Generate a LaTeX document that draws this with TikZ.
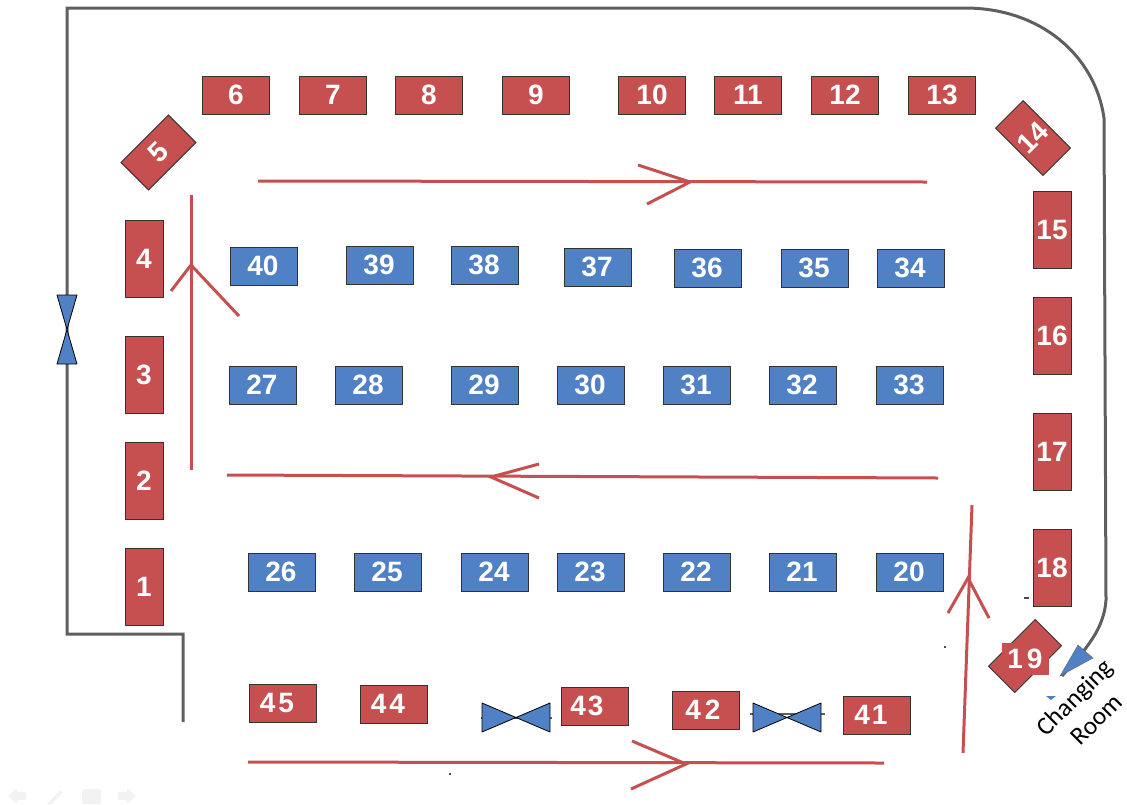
\documentclass[tikz,border=0pt]{standalone}
\usepackage{fontspec}
\setmainfont{Liberation Sans}
\newfontfamily\labelfont{Carlito}
\definecolor{rd}{HTML}{C5504F}
\definecolor{bl}{HTML}{4F81C4}
\definecolor{wl}{HTML}{5F5F5F}
\tikzset{
  numfont/.style={font=\fontsize{28}{28}\selectfont\bfseries},
  numbox/.style={draw=black!80,line width=0.9pt,inner sep=0pt,text=white,numfont},
  redh/.style={numbox,fill=rd,minimum width=67pt,minimum height=38pt},
  redv/.style={numbox,fill=rd,minimum width=38pt,minimum height=77pt},
  blueh/.style={numbox,fill=bl,minimum width=67pt,minimum height=38pt},
  wall/.style={draw=wl,line width=3pt},
  flow/.style={draw=rd,line width=3pt},
  valve/.style={draw=black,line width=0.8pt,fill=bl,line join=round},
  navicon/.style={fill=black!5,draw=none},
  speck/.style={fill=black!70,draw=none},
}
\begin{document}
\begin{tikzpicture}[x=1pt,y=-1pt]
\useasboundingbox (0,0) rectangle (1127,804);
% walls
\coordinate (w1) at (183,722);\coordinate (w2) at (183,634);\coordinate (w3) at (67,634);
\coordinate (w4) at (67,8);\coordinate (w5) at (965,8);\coordinate (w6) at (1104,118);
\coordinate (w7) at (1106,600);\coordinate (w8) at (1062,676);
\draw[wall,line join=miter] (w1) -- (w2) -- (w3) -- (w4) -- (w5)
  .. controls (1040,8) and (1095,55) .. (w6) -- (w7) .. controls (1104,630) and (1085,650) .. (w8);
% red row
\foreach \n/\x/\y in {6/236/95,7/333/95,8/429/95,9/536/95,10/652/95,11/748/95,12/845/95,13/942/95}
  \node[redh] (r\n) at (\x,\y) {\n};
\foreach \n/\x/\y in {1/144/587,2/144/481,3/144/375,4/144/259,15/1052/230,16/1052/336,17/1052/452,18/1052/568}
  \node[redv] (r\n) at (\x,\y) {\n};
\node[numbox,fill=rd,minimum width=39pt,minimum height=67pt,rotate=-45] (r5) at (158.5,152.5) {};
\node[text=white,numfont,inner sep=0pt,rotate=45] (t5) at (r5.center) {5};
\node[numbox,fill=rd,minimum width=39pt,minimum height=67pt,rotate=45] (r14) at (1033,138) {14};
% 19
\node[numbox,fill=rd,minimum width=37pt,minimum height=66pt,rotate=-45] (r19) at (1025,656) {};
\node[fill=rd,minimum width=47pt,minimum height=32pt,inner sep=0pt,text=white,numfont] (t19) at (1025,659) {1\kern4pt 9};
% blue
\foreach \n/\x/\y in {40/264/266,39/380/265,38/485/265,37/598/267,36/708/268,35/815/268,34/911/268,
  27/263/385,28/369/385,29/485/385,30/591/385,31/697/385,32/803/385,33/910/385,
  26/282/572,25/388/572,24/495/572,23/591/572,22/697/572,21/803/572,20/910/572}
  \node[blueh] (b\n) at (\x,\y) {\n\kern2pt};
% bottom row
\foreach \n/\t/\s/\x/\y in {45/4\kern3pt 5/12pt/283/703,44/4\kern3pt 4/12pt/394/704,43/4\kern2pt 3/16pt/595/706,42/4\kern4pt 2/6pt/706/710,41/4\kern2pt 1/12pt/877/715}
  \node[redh] (r\n) at (\x,\y) {\t\kern\s};
% flow arrows
\coordinate (a1s) at (258,181);\coordinate (a1e) at (927,182);\coordinate (a1t) at (690,182);
\draw[flow] (a1s) -- (a1e);
\draw[flow] (638,165) -- (a1t) -- (647,204);
\coordinate (a2s) at (938,478);\coordinate (a2e) at (227,475);\coordinate (a2t) at (491,477);
\draw[flow] (a2s) -- (a2e);
\draw[flow] (539,464) -- (a2t) -- (539,498);
\coordinate (a3s) at (191,470);\coordinate (a3e) at (191,195);\coordinate (a3t) at (191,265);
\draw[flow] (a3s) -- (a3e);
\draw[flow] (171,291) -- (a3t) -- (239,316);
\coordinate (a4s) at (963,753);\coordinate (a4e) at (972,505);\coordinate (a4t) at (968,578);
\draw[flow] (a4s) -- (a4e);
\draw[flow] (948,613) -- (a4t) -- (989,618);
\coordinate (a5s) at (248,762);\coordinate (a5e) at (884,763);\coordinate (a5t) at (686,764);
\draw[flow] (a5s) -- (a5e);
\draw[flow] (632,741) -- (a5t) -- (631,789);
% left door
\draw[valve] (57,295) -- (77,295) -- (57,364) -- (77,364) -- cycle;
% bottom valves
\draw[wl,line width=2.4pt] (481,718) -- (552,718);
\draw[valve] (482,703) -- (550,732) -- (550,703) -- (482,732) -- cycle;
\draw[wl,line width=2.4pt] (750,714) -- (825,714);
\draw[valve] (753,703) -- (821,732) -- (821,703) -- (753,732) -- cycle;
% changing room door
\draw[fill=bl,draw=black!60,line width=0.4pt] (1078,645) -- (1093,658) -- (1060,676) -- cycle;
\draw[fill=bl,draw=none] (1046,696) -- (1056,696) -- (1051,700) -- cycle;
\node[font=\labelfont\fontsize{25.5}{31}\selectfont,align=center,rotate=45,inner sep=0pt] (cr) at (1085,708) {Changing\\Room};
% specks
\fill[speck] (1024,597) rectangle (1029,598.5);
\fill[speck] (943.5,646) rectangle (945.5,648);
\fill[speck] (449,773) rectangle (451,774.5);
% navigation icons
\fill[navicon,rounded corners=1pt] (8,796) -- (17,788) -- (17,792) -- (26,792) -- (26,800) -- (17,800) -- (17,804) -- cycle;
\fill[navicon] (47,804) -- (60,790) -- (63,792) -- (52,804) -- cycle;
\fill[navicon,rounded corners=2pt] (82,789) rectangle (101,804);
\fill[navicon,rounded corners=1pt] (118,792) -- (127,792) -- (127,788) -- (136,796) -- (127,804) -- (127,800) -- (118,800) -- cycle;
\end{tikzpicture}
\end{document}
